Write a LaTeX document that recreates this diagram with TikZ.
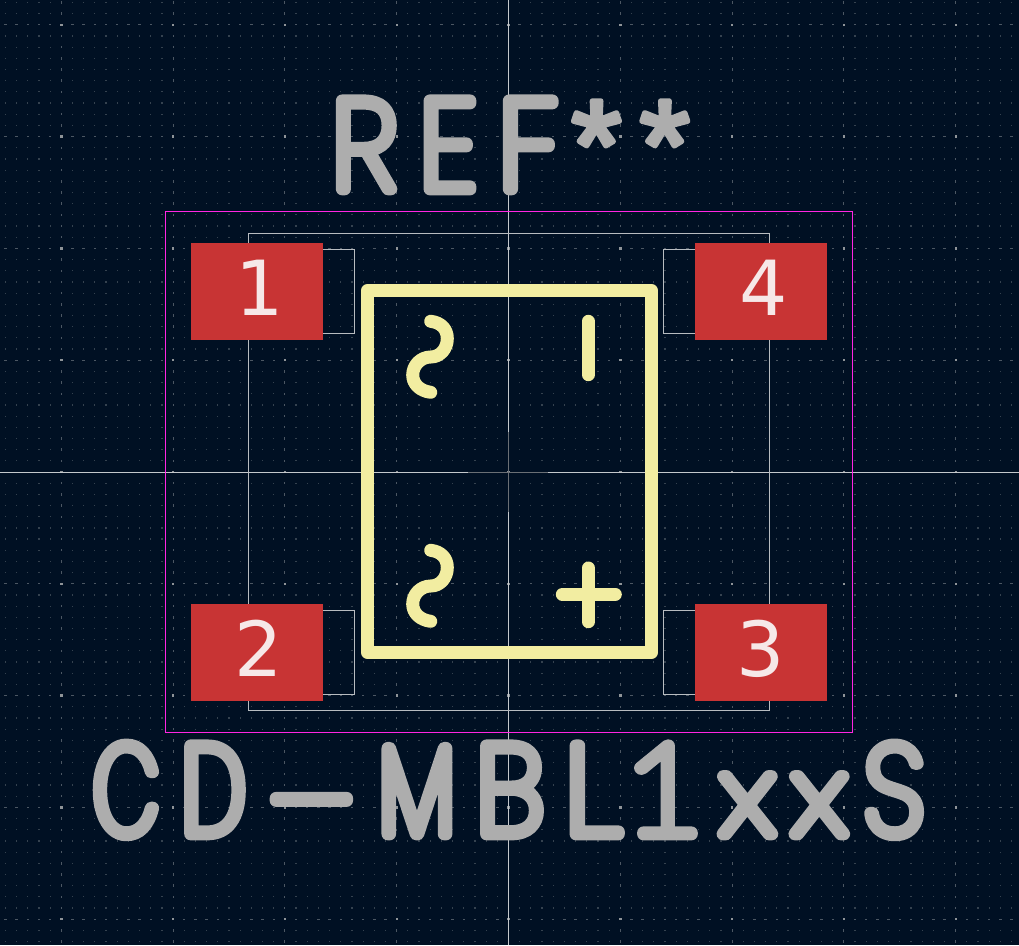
\documentclass[tikz,border=0pt]{standalone}
\usepackage{fontspec}
\setmainfont{DejaVu Sans}
\newcommand{\mkface}[2]{\expandafter\newfontface\csname f#1\endcsname{Poppins Thin}[FakeStretch=#2]}
\mkface{R}{0.95}\mkface{E}{0.93}\mkface{F}{1.0}
\mkface{C}{0.66}\mkface{D}{0.7}\mkface{H}{1.55}\mkface{M}{0.74}\mkface{B}{0.96}\mkface{L}{1.17}\mkface{X}{1.23}\mkface{S}{0.87}
\newfontface\fAst{Liberation Sans}
\newfontface\fOne{Lato Hairline}[FakeStretch=1.1]
\newlength{\pxu}\setlength{\pxu}{0.75pt}
\definecolor{bgc}{HTML}{001023}
\definecolor{padc}{HTML}{C83434}
\definecolor{padt}{HTML}{F6E8E8}
\definecolor{silk}{HTML}{F2EDA1}
\definecolor{fabc}{HTML}{B8BCC0}
\definecolor{cross}{HTML}{C4C8CC}
\definecolor{crossd}{HTML}{6A6F75}
\definecolor{court}{HTML}{FF26E2}
\definecolor{reft}{HTML}{ADADAD}
\definecolor{dotn}{HTML}{35424F}
\definecolor{dotm}{HTML}{4C5763}
\definecolor{dotx}{HTML}{8F9498}
\newcommand{\strokeon}{\special{pdf:code q 1 j 1 J 9.5 w 0.678 0.678 0.678 RG 2 Tr}}
\newcommand{\strokethin}{\special{pdf:code 4 w}}
\newcommand{\strokeoff}{\special{pdf:code Q}}
% #1 centre, #2 size in pt, #3 face, #4 raise, #5 letter
\newcommand{\lt}[5]{\rlap{\hspace*{#1\pxu}\makebox[0pt]{\raisebox{#4\pxu}{\fontsize{#2}{#2}#3#5}}}}
\tikzset{
  padbox/.style={fill=padc,draw=none,minimum width=132*\pxu,minimum height=97*\pxu,inner sep=0pt},
  padnum/.style={inner sep=0pt,text=padt,font=\fontsize{57}{57}\selectfont},
  silkline/.style={draw=silk,line width=9.75pt,line cap=round,line join=round},
  fabline/.style={draw=fabc,line width=0.75pt},
  strtext/.style={inner sep=0pt,anchor=base west,text=reft},
}
\begin{document}
\begin{tikzpicture}[x=0.75pt,y=-0.75pt]
\useasboundingbox (0,0) rectangle (1019,945);
\fill[bgc] (0,0) rectangle (1019,945);
% grid
\foreach \i in {-46,...,46}{
  \foreach \j in {-42,...,42}{
    \pgfmathsetmacro{\gx}{508.5+\i*11.18}
    \pgfmathsetmacro{\gy}{472+\j*11.18}
    \pgfmathparse{int(mod(abs(\i),10)==0)}\let\mi\pgfmathresult
    \pgfmathparse{int(mod(abs(\j),10)==0)}\let\mj\pgfmathresult
    \ifnum\mi\mj=11
      \fill[dotx] (\gx-1.2,\gy-1.2) rectangle (\gx+1.2,\gy+1.2);
    \else\ifnum\mi\mj=10
      \fill[dotm] (\gx-.5,\gy-1.2) rectangle (\gx+.5,\gy+1.2);
      \else\ifnum\mi\mj=1
      \fill[dotm] (\gx-1.2,\gy-.5) rectangle (\gx+1.2,\gy+.5);
      \else
      \fill[dotn] (\gx-.6,\gy-.6) rectangle (\gx+.6,\gy+.6);
    \fi\fi\fi
  }
}
% crosshair
\draw[cross,line width=0.75pt] (508.5,0) -- (508.5,432) (508.5,512) -- (508.5,945)
  (0,472) -- (468,472) (548,472) -- (1019,472);
\draw[crossd,line width=0.75pt] (508.5,432) -- (508.5,512) (468,472) -- (548,472);
% courtyard
\draw[court,line width=0.9pt] (165.5,211.5) rectangle (852.3,732.5);
% fab
\draw[fabline] (248.5,233.5) rectangle (769.5,710.5);
\draw[fabline] (300,249.5) -| (354,333.5) -- (300,333.5);
\draw[fabline] (300,610.5) -| (354,694) -- (300,694);
\draw[fabline] (720,249.5) -| (663.5,333.5) -- (720,333.5);
\draw[fabline] (720,610.5) -| (663.5,694) -- (720,694);
% silk
\draw[silkline] (367.5,290.5) rectangle (651.5,652.5);
\foreach \d in {0,229}{
\draw[silkline] (430.7,321.3+\d) .. controls (441,322.5+\d) and (447.3,329+\d) .. (447.3,338.5+\d) .. controls (447.3,349+\d) and (440,357+\d) .. (430.7,357+\d) .. controls (421,357+\d) and (412.7,365+\d) .. (412.7,375+\d) .. controls (412.7,384+\d) and (420,391+\d) .. (430.7,392.3+\d);
}
\draw[silkline] (588.3,321.3) -- (588.3,374.7);
\draw[silkline] (588.3,568) -- (588.3,621.7) (562.3,594.3) -- (615.3,594.3);
% pads
\node[padbox] (p1) at (257,291.5) {};
\node[padbox] (p2) at (257,652.5) {};
\node[padbox] (p3) at (761,652.5) {};
\node[padbox] (p4) at (761,291.5) {};
\node[padnum] (n1) at (260,287.5) {1};
\node[padnum] (n2) at (258.5,648.5) {2};
\node[padnum] (n3) at (761,648.5) {3};
\node[padnum] (n4) at (764,287.5) {4};
% texts
\node[strtext] (ref) at (0,189) {\hbox to 0pt{\strokeon%
\lt{363}{94}{\fR}{0}{R}\lt{447}{94}{\fE}{0}{E}\lt{527}{94}{\fF}{0}{F}\strokethin\lt{595.5}{96}{\fAst}{0}{*}\lt{664}{96}{\fAst}{0}{*}\strokeoff\hss}};
\node[strtext] (val) at (0,834) {\hbox to 0pt{\strokeon%
\lt{125}{94}{\fC}{0}{C}\lt{213}{94}{\fD}{0}{D}\lt{325}{94}{\fH}{-13}{-}\lt{416}{94}{\fM}{0}{M}\lt{509}{94}{\fB}{0}{B}\lt{591.5}{94}{\fL}{0}{L}\lt{663}{94}{\fOne}{0}{1}\lt{746.5}{80}{\fX}{0}{x}\lt{818.5}{80}{\fX}{0}{x}\lt{893}{94}{\fS}{0}{S}\strokeoff\hss}};
\end{tikzpicture}
\end{document}
